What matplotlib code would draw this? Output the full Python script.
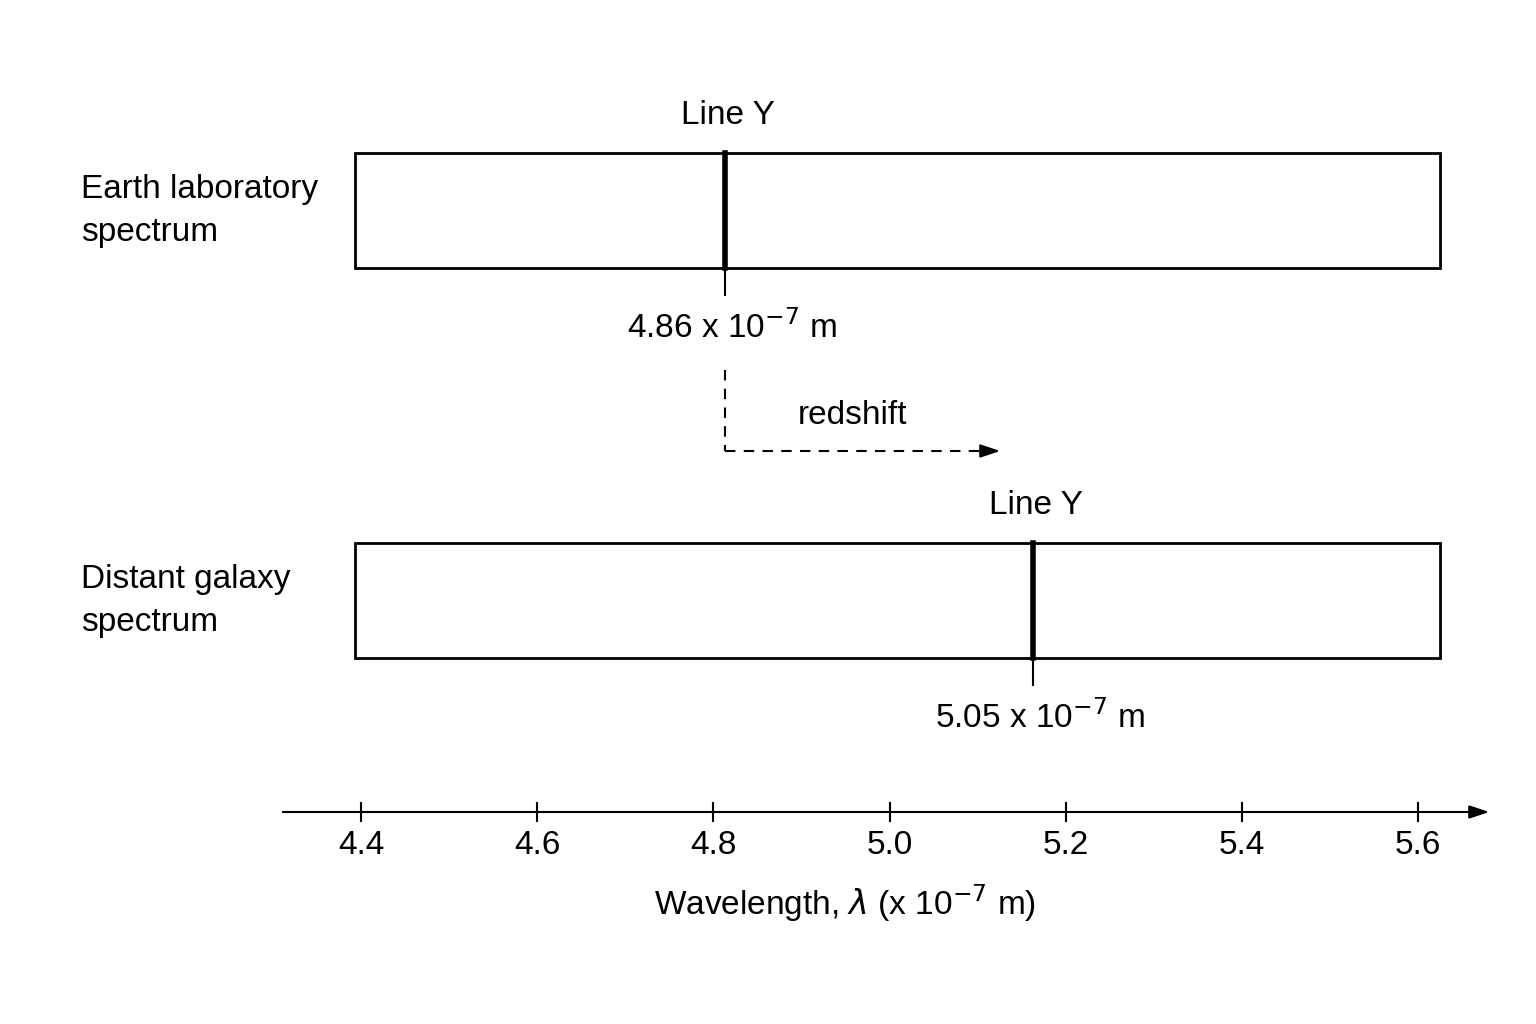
import matplotlib
matplotlib.use('Agg')
import matplotlib.pyplot as plt
from matplotlib.patches import Rectangle

plt.rcParams['font.family'] = ['Liberation Sans Narrow', 'Liberation Sans', 'DejaVu Sans']

TICKS = [4.4, 4.6, 4.8, 5.0, 5.2, 5.4, 5.6]
BOX_RANGE = (4.393, 5.625)
# drawn line positions (as placed in the picture) and their printed labels
LINE_POS = [4.813, 5.163]
LINE_LABELS = ['4.86 x 10$^{-7}$ m', '5.05 x 10$^{-7}$ m']
ROW_LABELS = ['Earth laboratory\nspectrum', 'Distant galaxy\nspectrum']
ROW_TOP = [153, 543]
BOX_H = 115

PX = 881.0  # pixels per unit of wavelength
X0 = 4.4 - 361 / PX

fig = plt.figure(figsize=(15.36, 10.24), dpi=100)
ax = fig.add_axes([0, 0, 1, 1])
ax.set_xlim(X0, X0 + 1536 / PX)
ax.set_ylim(1024, 0)
ax.axis('off')

fs = 24
for top, pos, lab, row in zip(ROW_TOP, LINE_POS, LINE_LABELS, ROW_LABELS):
    ax.add_patch(Rectangle((BOX_RANGE[0], top), BOX_RANGE[1] - BOX_RANGE[0], BOX_H,
                           fill=False, lw=2, ec='black'))
    ax.plot([pos, pos], [top, top + BOX_H], color='black', lw=4)
    ax.plot([pos, pos], [top + BOX_H, top + BOX_H + 27], color='black', lw=1.5)
    ax.text(pos + 0.003, top - 38, 'Line Y', ha='center', va='center', fontsize=fs)
    ax.text(pos + 0.008, top + BOX_H + 60, lab, ha='center', va='center', fontsize=fs)
    ax.text(X0 + 81 / PX, top + 58, row, ha='left', va='center', fontsize=fs, linespacing=1.5)

# redshift arrow
xs = LINE_POS[0]
ax.plot([xs, xs], [370, 451], color='black', lw=1.5, ls=(0, (5, 4)))
ax.plot([xs, X0 + 985 / PX], [451, 451], color='black', lw=1.5, ls=(0, (5, 4)))
ax.annotate('', xy=(X0 + 1003 / PX, 451), xytext=(X0 + 980 / PX, 451),
            arrowprops=dict(arrowstyle='-|>,head_length=1.2,head_width=0.4', color='black', lw=1.5))
ax.text(X0 + 852 / PX, 415, 'redshift', ha='center', va='center', fontsize=fs)

# wavelength axis
ax.annotate('', xy=(X0 + 1492 / PX, 812), xytext=(X0 + 280 / PX, 812),
            arrowprops=dict(arrowstyle='-|>,head_length=1.2,head_width=0.4', color='black', lw=1.5))
for t in TICKS:
    ax.plot([t, t], [803, 821], color='black', lw=1.5)
    ax.text(t, 845, f'{t:.1f}', ha='center', va='center', fontsize=fs)
ax.text(X0 + 845 / PX, 903, 'Wavelength, $\\lambda$ (x 10$^{-7}$ m)', ha='center', va='center', fontsize=fs)

fig.savefig('out.png', dpi=100)
